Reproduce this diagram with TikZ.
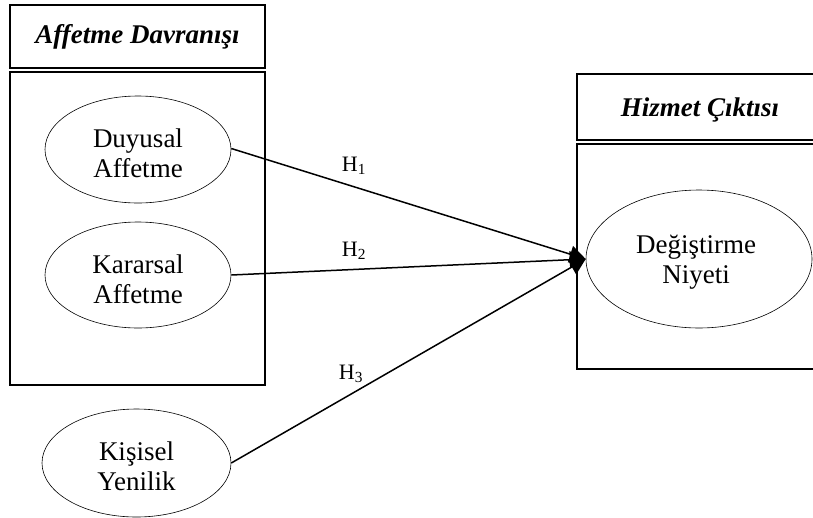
\documentclass[tikz,border=0pt]{standalone}
\usepackage{fontspec}
\setmainfont{Liberation Serif}
\usetikzlibrary{arrows.meta,shapes.geometric}
\begin{document}
\begin{tikzpicture}[x=1pt,y=-1pt,
  frame/.style={draw,line width=1.6pt,inner sep=0pt},
  titletext/.style={font=\fontsize{27}{32}\selectfont\bfseries\itshape},
  construct/.style={draw,ellipse,line width=0.6pt,inner sep=0pt},
  ctext/.style={align=center,font=\fontsize{27}{30}\selectfont},
  hyppath/.style={line width=1.5pt,-{Triangle[length=16pt,width=17pt]}},
  hlabel/.style={font=\fontsize{22}{26}\selectfont}]
\useasboundingbox (0,0) rectangle (813,517);
\begin{scope}
\clip (0,0) rectangle (813,517);
% frames
\node[frame,minimum width=255pt,minimum height=63pt] (ltitle) at (137.5,36.5) {};
\node[titletext] at (ltitle.center) {Affetme Davranışı};
\node[frame,minimum width=255pt,minimum height=313pt] (lbody) at (137.5,228.5) {};
\node[frame,minimum width=250pt,minimum height=66pt] (rtitle) at (702,107) {};
\node[titletext] at (700,110) {Hizmet Çıktısı};
\node[frame,minimum width=250pt,minimum height=225pt] (rbody) at (702,256.5) {};
% constructs
\node[construct,minimum width=186pt,minimum height=107pt] (duy) at (138,149.5) {};
\node[ctext] at (138,153) {Duyusal\\Affetme};
\node[construct,minimum width=186pt,minimum height=106pt] (kar) at (138,275) {};
\node[ctext] at (138,279) {Kararsal\\Affetme};
\node[construct,minimum width=189pt,minimum height=108pt] (kis) at (136.5,463) {};
\node[ctext] at (136.5,466) {Kişisel\\Yenilik};
\node[construct,minimum width=226pt,minimum height=138pt] (deg) at (699,259) {};
\node[ctext] at (696,262) {Değiştirme\\Niyeti};
% paths
\draw[hyppath] (duy.east) ++(0,-1) -- (deg.west);
\draw[hyppath] (kar.east) -- (deg.west);
\draw[hyppath] (kis.east) -- (deg.west);
% labels
\node[hlabel] (h1) at (354,166) {H\textsubscript{1}};
\node[hlabel] (h2) at (354,251) {H\textsubscript{2}};
\node[hlabel] (h3) at (351,374) {H\textsubscript{3}};
\end{scope}
\end{tikzpicture}
\end{document}
